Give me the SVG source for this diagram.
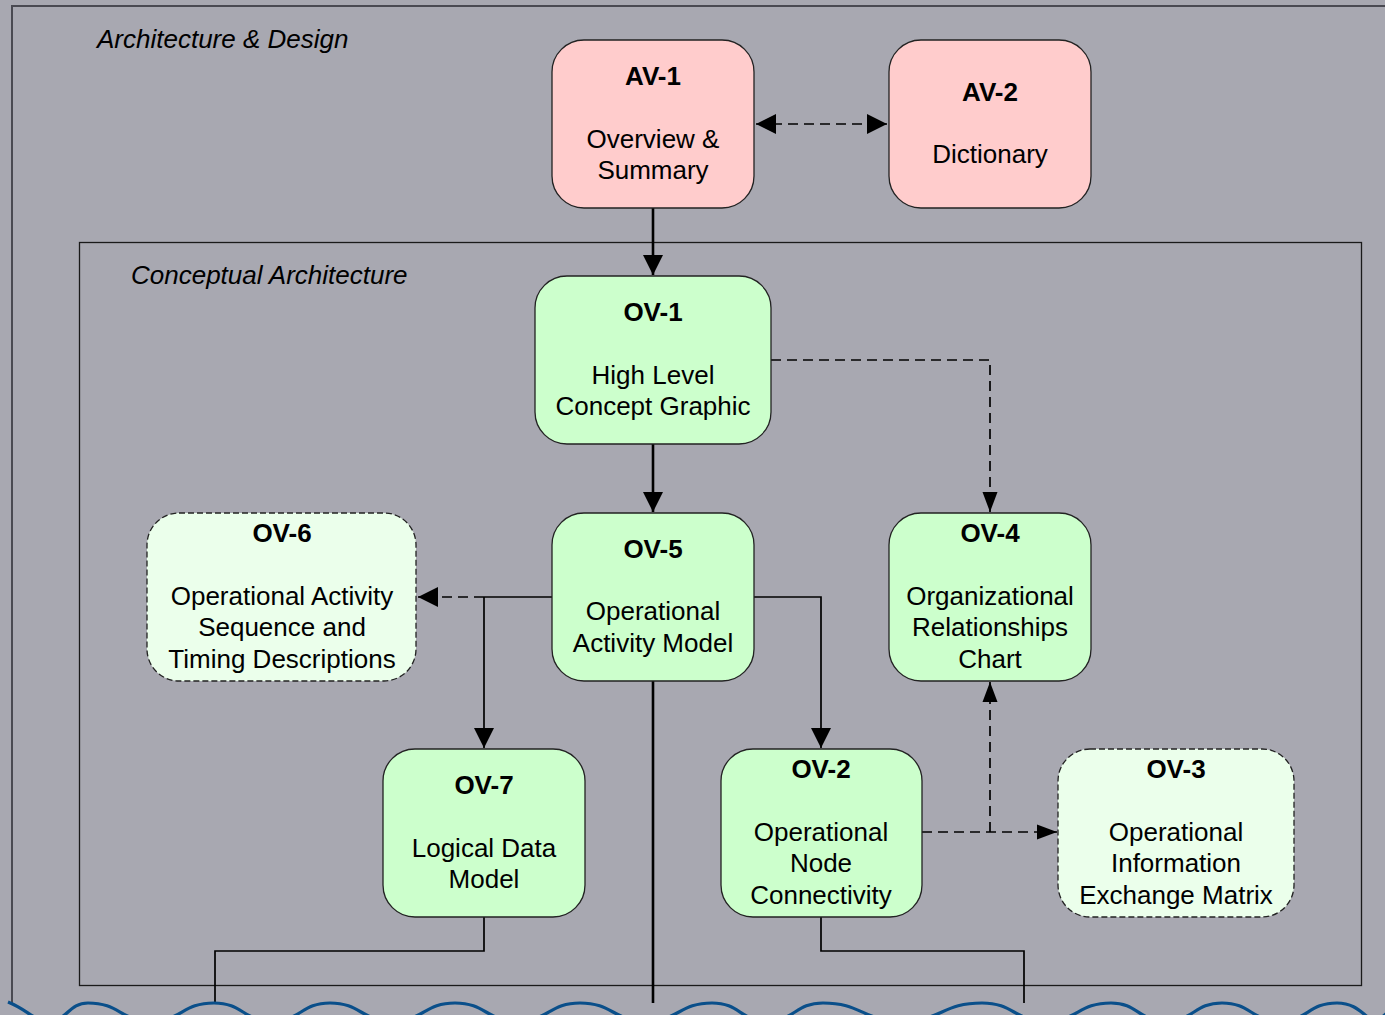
<svg xmlns="http://www.w3.org/2000/svg" width="1385" height="1015" viewBox="0 0 1385 1015">
<defs>
<style>
.node{stroke:#222;stroke-width:1.3}
.av{fill:#FFCCCC}
.ov{fill:#CCFFCC}
.opt{fill:#EBFFEB;stroke-dasharray:6 3}
text{font-family:"Liberation Sans",Arial,sans-serif;font-size:26px;fill:#000;text-anchor:middle}
.t{font-weight:bold}
.grp{font-style:italic;text-anchor:start}
.c{fill:none;stroke:#000}
.thick{stroke-width:2.6}
.thin{stroke-width:1.7}
.dash{stroke-dasharray:10 6}
</style>
<marker id="ah" markerUnits="userSpaceOnUse" markerWidth="22" markerHeight="22" refX="20" refY="10" orient="auto-start-reverse" viewBox="0 0 22 20">
<path d="M0,0 L20,10 L0,20 Z" fill="#000"/>
</marker>
<marker id="ahs" markerUnits="userSpaceOnUse" markerWidth="22" markerHeight="16" refX="20" refY="7.5" orient="auto-start-reverse" viewBox="0 0 22 15">
<path d="M0,0 L20,7.5 L0,15 Z" fill="#000"/>
</marker>
</defs>
<rect width="1385" height="1015" fill="#A8A8B1"/>
<g id="frames">
<path d="M12,1003 V6 H1390" fill="none" stroke="#4A4A52" stroke-width="2"/>
<rect x="79.5" y="242.5" width="1282" height="743" fill="none" stroke="#1a1a1a" stroke-width="1.3"/>
<text class="grp" x="97" y="48">Architecture &amp; Design</text>
<text class="grp" x="131" y="284">Conceptual Architecture</text>
</g>
<g id="connectors">
<line class="c dash thin" x1="756" y1="124" x2="887" y2="124" marker-start="url(#ah)" marker-end="url(#ah)"/>
<line class="c thick" x1="653" y1="208" x2="653" y2="275" marker-end="url(#ah)"/>
<line class="c thick" x1="653" y1="444" x2="653" y2="512" marker-end="url(#ah)"/>
<path class="c dash thin" d="M771,360 H990 V512" marker-end="url(#ahs)"/>
<path class="c thin" d="M552,597 H484"/>
<path class="c dash thin" d="M484,597 H418" marker-end="url(#ah)"/>
<path class="c thin" d="M484,597 V748" marker-end="url(#ah)"/>
<path class="c thin" d="M754,597 H821 V748" marker-end="url(#ah)"/>
<line class="c thick" x1="653" y1="681" x2="653" y2="1003"/>
<path class="c thin" d="M484,917 V951 H215 V1003"/>
<path class="c thin" d="M821,917 V951 H1024 V1003"/>
<path class="c dash thin" d="M922,832 H1057" marker-end="url(#ahs)"/>
<path class="c dash thin" d="M990,832 V682" marker-end="url(#ahs)"/>
</g>
<g id="AV-1"><rect class="node av" x="552" y="40" width="202" height="168" rx="32"/><text class="t" x="653" y="85">AV-1</text><text x="653" y="148">Overview &amp;</text><text x="653" y="179">Summary</text></g>
<g id="AV-2"><rect class="node av" x="889" y="40" width="202" height="168" rx="32"/><text class="t" x="990" y="101">AV-2</text><text x="990" y="163">Dictionary</text></g>
<g id="OV-1"><rect class="node ov" x="535" y="276" width="236" height="168" rx="32"/><text class="t" x="653" y="321">OV-1</text><text x="653" y="384">High Level</text><text x="653" y="415">Concept Graphic</text></g>
<g id="OV-5"><rect class="node ov" x="552" y="513" width="202" height="168" rx="32"/><text class="t" x="653" y="558">OV-5</text><text x="653" y="620">Operational</text><text x="653" y="652">Activity Model</text></g>
<g id="OV-6"><rect class="node opt" x="147" y="513" width="269" height="168" rx="32"/><text class="t" x="282" y="542">OV-6</text><text x="282" y="605">Operational Activity</text><text x="282" y="636">Sequence and</text><text x="282" y="668">Timing Descriptions</text></g>
<g id="OV-4"><rect class="node ov" x="889" y="513" width="202" height="168" rx="32"/><text class="t" x="990" y="542">OV-4</text><text x="990" y="605">Organizational</text><text x="990" y="636">Relationships</text><text x="990" y="668">Chart</text></g>
<g id="OV-7"><rect class="node ov" x="383" y="749" width="202" height="168" rx="32"/><text class="t" x="484" y="794">OV-7</text><text x="484" y="857">Logical Data</text><text x="484" y="888">Model</text></g>
<g id="OV-2"><rect class="node ov" x="721" y="749" width="201" height="168" rx="32"/><text class="t" x="821" y="778">OV-2</text><text x="821" y="841">Operational</text><text x="821" y="872">Node</text><text x="821" y="904">Connectivity</text></g>
<g id="OV-3"><rect class="node opt" x="1058" y="749" width="236" height="168" rx="32"/><text class="t" x="1176" y="778">OV-3</text><text x="1176" y="841">Operational</text><text x="1176" y="872">Information</text><text x="1176" y="904">Exchange Matrix</text></g>
<g id="wave">
<path fill="none" stroke="#0A4F8A" stroke-width="3.2" d="M8,1002 C28,1010 34,1021 48,1021 C68,1021 68,1003 88,1003 C120,1003 120,1021 151,1021 C182,1021 182,1003 214,1003 C243,1003 243,1021 272,1021 C301,1021 301,1003 330,1003 C361,1003 361,1021 392,1021 C424,1021 424,1003 455,1003 C486,1003 486,1021 517,1021 C549,1021 549,1003 580,1003 C613,1003 613,1021 646,1021 C679,1021 679,1003 712,1003 C740,1003 740,1021 767,1021 C795,1021 795,1003 823,1003 C862,1003 862,1021 902,1021 C942,1021 942,1003 982,1003 C1014,1003 1014,1021 1046,1021 C1078,1021 1078,1003 1111,1003 C1138,1003 1138,1021 1166,1021 C1194,1021 1194,1003 1222,1003 C1251,1003 1251,1021 1280,1021 C1308,1021 1308,1003 1337,1003 C1360,1003 1365,1020 1375,1020 C1385,1020 1390,1005 1400,1003"/>
</g>
</svg>
